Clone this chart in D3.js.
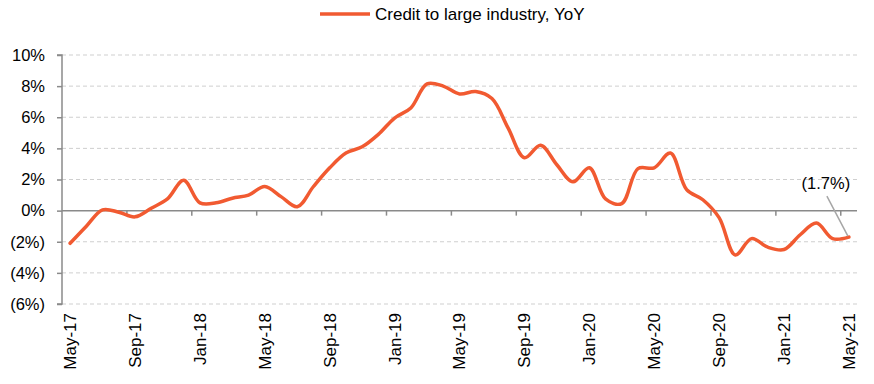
<!DOCTYPE html>
<html><head><meta charset="utf-8">
<script src="https://cdn.jsdelivr.net/npm/d3@7"></script>
<style>body{margin:0;background:#fff;} svg{display:block;font-family:"Liberation Sans",Arial,sans-serif;}</style>
</head><body>
<svg id="c" width="874" height="384"></svg>
<script>
const months = ["May-17","Jun-17","Jul-17","Aug-17","Sep-17","Oct-17","Nov-17","Dec-17",
"Jan-18","Feb-18","Mar-18","Apr-18","May-18","Jun-18","Jul-18","Aug-18","Sep-18","Oct-18","Nov-18","Dec-18",
"Jan-19","Feb-19","Mar-19","Apr-19","May-19","Jun-19","Jul-19","Aug-19","Sep-19","Oct-19","Nov-19","Dec-19",
"Jan-20","Feb-20","Mar-20","Apr-20","May-20","Jun-20","Jul-20","Aug-20","Sep-20","Oct-20","Nov-20","Dec-20",
"Jan-21","Feb-21","Mar-21","Apr-21","May-21"];
const creditYoY = [-2.1,-1.0,0.05,-0.1,-0.4,0.15,0.75,1.95,
0.5,0.5,0.8,1.0,1.55,0.9,0.25,1.55,2.75,3.7,4.1,4.9,
5.95,6.6,8.15,8.0,7.5,7.65,7.2,5.3,3.4,4.2,2.95,1.85,
2.75,0.75,0.45,2.7,2.75,3.7,1.35,0.7,-0.45,-2.85,-1.8,-2.35,
-2.5,-1.55,-0.8,-1.8,-1.7];
const yTicks = [-6,-4,-2,0,2,4,6,8,10];
const tickLabels = ["May-17","Sep-17","Jan-18","May-18","Sep-18","Jan-19","May-19","Sep-19","Jan-20","May-20","Sep-20","Jan-21","May-21"];
const seriesName = "Credit to large industry, YoY";
const lastLabel = "(1.7%)";

const svg = d3.select("#c");
const L = 62, R = 857, T = 55, B = 304;
const x = d3.scaleBand().domain(months).range([L, R]).padding(0);
const y = d3.scaleLinear().domain([-6, 10]).range([B, T]);
const fmt = v => v < 0 ? "(" + Math.abs(v) + "%)" : v + "%";
const lineColor = "#F15A31", axisColor = "#8a8a8a";

// gridlines
svg.append("g").selectAll("line").data(yTicks.filter(v => v !== 0)).join("line")
  .attr("x1", L).attr("x2", R).attr("y1", d => y(d)).attr("y2", d => y(d))
  .attr("stroke", "#cfcfcf").attr("stroke-width", 1).attr("stroke-dasharray", "4,3");

// y axis
const yAxis = svg.append("g").attr("transform", `translate(${L},0)`)
  .call(d3.axisLeft(y).tickValues(yTicks).tickFormat(fmt).tickSize(5).tickPadding(12));
yAxis.select(".domain").attr("stroke", axisColor).attr("stroke-width", 1.5).attr("d", `M-5,${T}H0V${B}H-5`);
yAxis.selectAll(".tick line").attr("stroke", axisColor).attr("stroke-width", 1.5);
yAxis.selectAll(".tick text").attr("font-size", 16.5).attr("fill", "#000").attr("font-family", "Liberation Sans, Arial, sans-serif");

// zero line
svg.append("line").attr("x1", L).attr("x2", R).attr("y1", y(0)).attr("y2", y(0))
  .attr("stroke", axisColor).attr("stroke-width", 1.5);
// x ticks at 0 line
const tickMonths = months.filter((m, i) => i % 4 === 0 && i > 0);
svg.append("g").selectAll("line").data(tickMonths).join("line")
  .attr("x1", d => x(d)).attr("x2", d => x(d)).attr("y1", y(0)).attr("y2", y(0) + 5)
  .attr("stroke", axisColor).attr("stroke-width", 1.5);

// x labels
svg.append("g").selectAll("text").data(tickLabels).join("text")
  .attr("transform", d => `translate(${x(d) + x.bandwidth() / 2},313) rotate(-90)`)
  .attr("text-anchor", "end").attr("dy", "0.35em").attr("font-size", 17).attr("fill", "#000")
  .text(d => d);

// line
const line = d3.line().x((d, i) => x(months[i]) + x.bandwidth() / 2).y(d => y(d))
  .curve(d3.curveCatmullRom.alpha(0.5));
svg.append("path").datum(creditYoY).attr("d", line).attr("fill", "none")
  .attr("stroke", lineColor).attr("stroke-width", 3.5).attr("stroke-linejoin", "round").attr("stroke-linecap", "round");

// annotation
const lx = x(months[months.length - 1]) + x.bandwidth() / 2;
const ly = y(creditYoY[creditYoY.length - 1]);
svg.append("line").attr("x1", lx - 22).attr("y1", ly - 41).attr("x2", lx - 1).attr("y2", ly - 1)
  .attr("stroke", "#a6a6a6").attr("stroke-width", 1.5);
svg.append("text").attr("x", lx - 23).attr("y", ly - 48).attr("text-anchor", "middle")
  .attr("font-size", 16.5).attr("fill", "#000").text(lastLabel);

// legend
svg.append("line").attr("x1", 320).attr("x2", 370).attr("y1", 14).attr("y2", 14)
  .attr("stroke", lineColor).attr("stroke-width", 3.5);
svg.append("text").attr("x", 375).attr("y", 20).attr("font-size", 17).attr("fill", "#000").text(seriesName);
</script>
</body></html>
